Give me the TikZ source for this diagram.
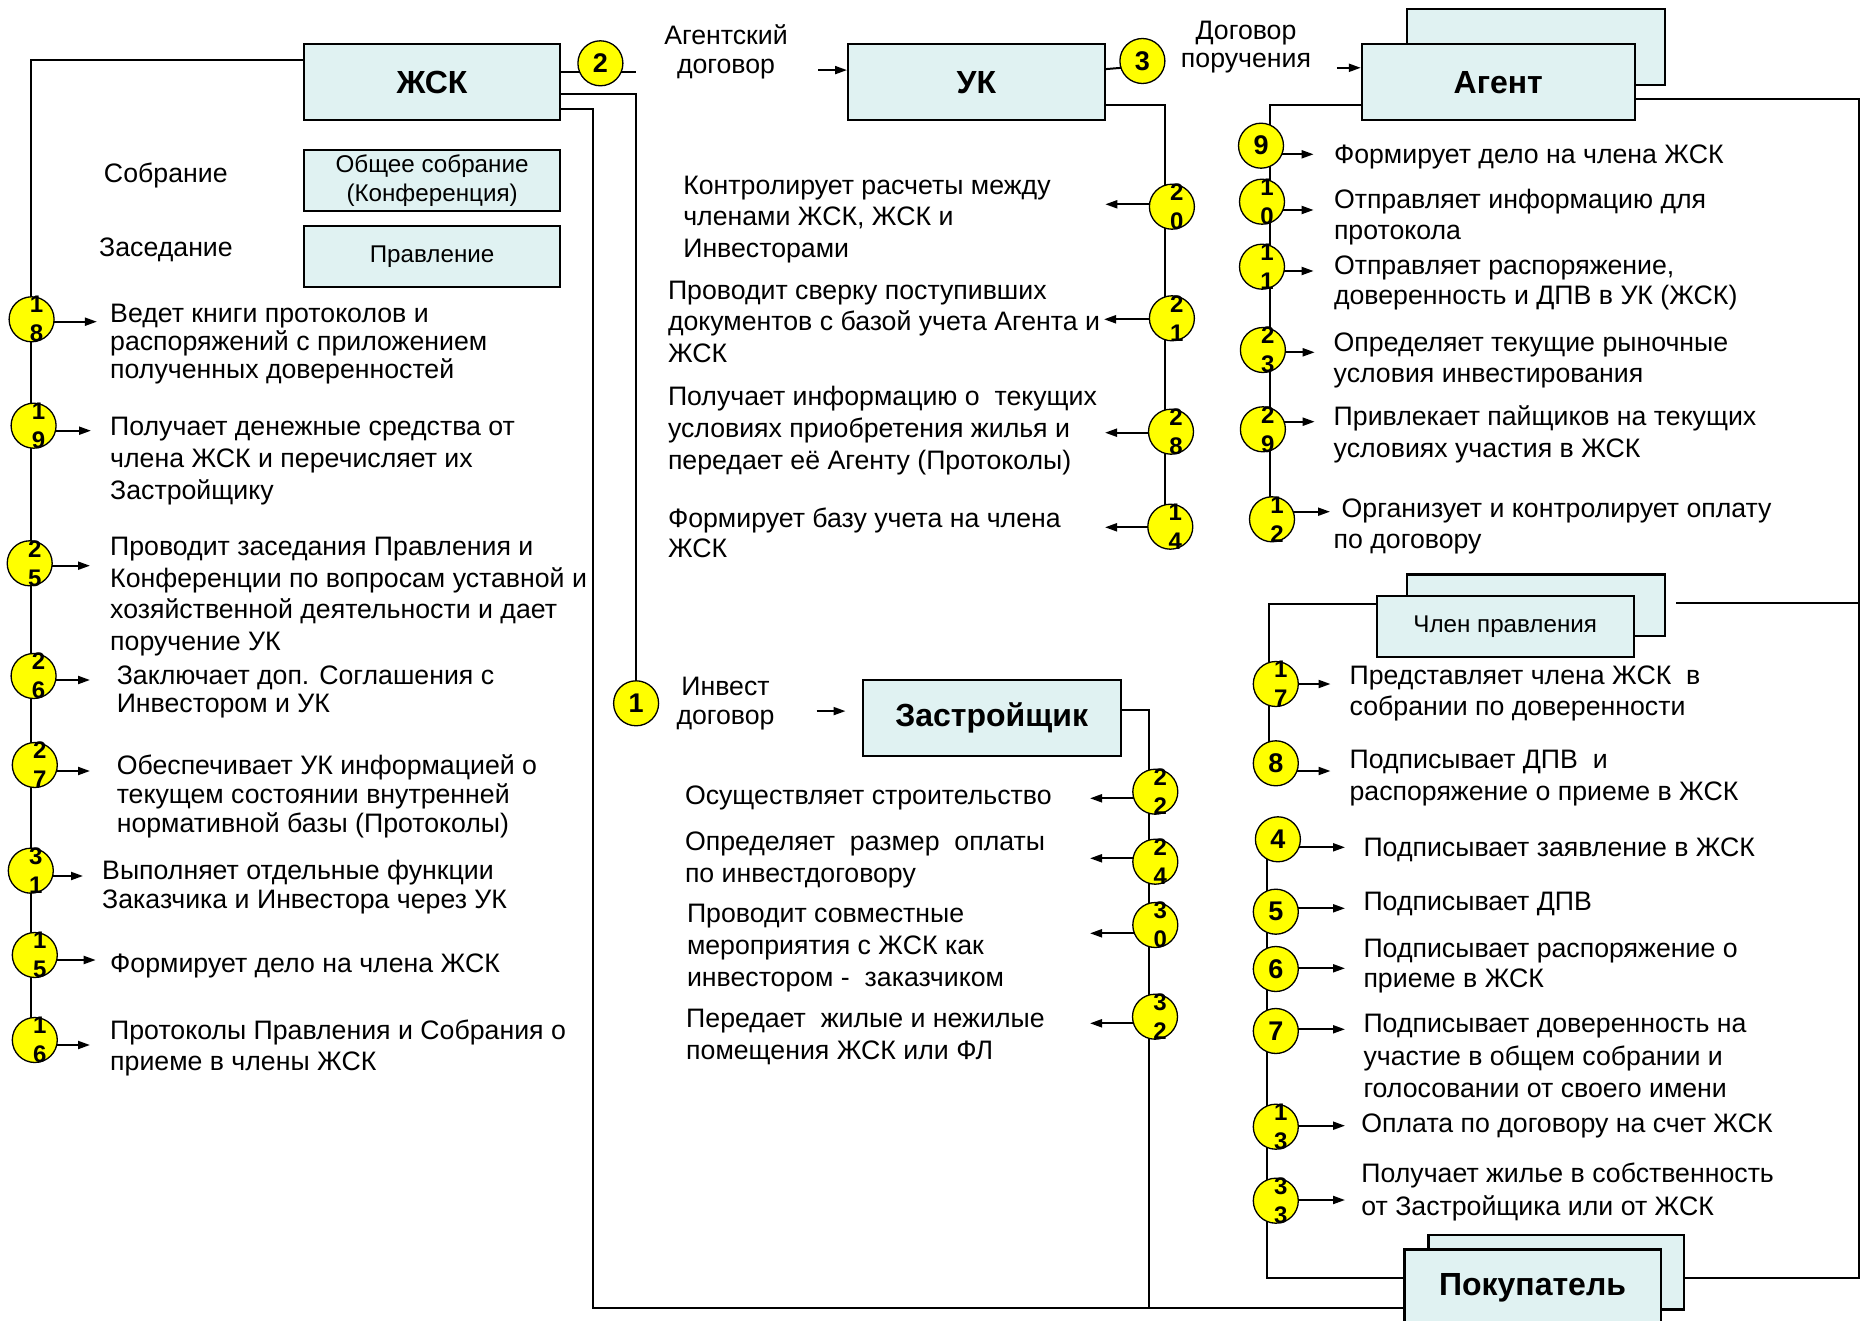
\documentclass[tikz,border=0pt]{standalone}
\usepackage{fontspec}
\setmainfont{Liberation Sans}
\usetikzlibrary{arrows.meta}
\definecolor{boxfill}{RGB}{224,242,242}
\definecolor{cyellow}{RGB}{255,255,0}
\pgfdeclarelayer{bg}
\pgfsetlayers{bg,main}
\newcommand{\fs}[1]{\fontsize{26.7}{#1}\selectfont}
\newcommand{\ms}{\rule{0pt}{22pt}}
\newcommand{\twonum}[5]{\node[num] (c#1) at (#2,#3) {};\node[dig] (d#1) at ([xshift=5pt]c#1.center) {#4\\#5};}
\newcommand{\carr}[3]{\draw[arr] (#1.center |- 0,#2) -- (#3,#2);}
\begin{document}
\begin{tikzpicture}[x=1pt,y=-1pt,
  box/.style={draw=black, line width=2.2pt, fill=boxfill, anchor=north west, inner sep=0},
  ttl/.style={font=\fontsize{32}{38}\selectfont\bfseries},
  sml/.style={align=center, font=\fontsize{24.2}{29}\selectfont},
  num/.style={circle, draw=black, line width=1.3pt, fill=cyellow, minimum size=45pt, inner sep=0, font=\fontsize{27}{30}\selectfont\bfseries},
  dig/.style={inner sep=0, align=center, font=\fontsize{24}{29}\selectfont\bfseries},
  txt/.style={anchor=north west, inner sep=0, align=left, font=\fs{31.5}},
  ctxt/.style={anchor=north, inner sep=0, align=center, font=\fs{29}},
  conn/.style={line width=2pt},
  arr/.style={line width=2pt, -{Triangle[length=12pt,width=8pt]}},
]
\useasboundingbox (0,0) rectangle (1860,1321);

% ---------- boxes ----------
\node[box, ttl, minimum width=256pt, minimum height=76pt] (jsk) at (303,43) {ЖСК};
\node[box, sml, minimum width=256pt, minimum height=61pt] (obs) at (303,149.3) {Общее собрание\\(Конференция)};
\node[box, sml, minimum width=256pt, minimum height=61pt] (prv) at (303,225) {Правление};
\node[box, ttl, minimum width=256.6pt, minimum height=76pt] (uk) at (847,43.3) {УК};
\node[box, minimum width=257.8pt, minimum height=75.7pt] (agB) at (1406,8.3) {};
\node[box, ttl, minimum width=272.7pt, minimum height=76pt] (agF) at (1360.8,43.3) {Агент};
\node[box, ttl, minimum width=258.2pt, minimum height=76pt] (zas) at (861.5,679) {Застройщик};
\node[box, minimum width=258.3pt, minimum height=61.7pt] (chB) at (1405.5,573.3) {};
\node[box, sml, minimum width=257.2pt, minimum height=61pt] (chF) at (1375.5,595) {Член правления};
\node[box, minimum width=255.9pt, minimum height=74.3pt] (pkB) at (1427.3,1234) {};
\node[box, ttl, minimum width=256.3pt, minimum height=76pt] (pkF) at (1403.3,1248.3) {Покупатель};

% ---------- side labels ----------
\node[ctxt] (lagd) at (726,22) {\ms Агентский\\договор};
\node[ctxt, font=\fs{28}] (ldpr) at (1246,17) {\ms Договор\\поручения};
\node[ctxt, font=\fs{28.3}] (lind) at (725.5,673.7) {\ms Инвест\\договор};
\node[ctxt] (lsob) at (165.8,160) {\ms Собрание};
\node[ctxt] (lzas) at (166,234) {\ms Заседание};

% ---------- coordinates ----------
\coordinate (lb) at (30.8,1040);
\coordinate (bl) at (593,1308.3);
\coordinate (ukb) at (1164.5,527);
\coordinate (agb) at (1269.5,519.3);
\coordinate (rt) at (1858.5,1278.3);
\coordinate (chb) at (1269.4,763.3);
\coordinate (pb) at (1267.3,839.3);
\coordinate (zb) at (1149,1308.3);

% ---------- circles ----------
\node[num] (c2) at (600.4,63.3) {2};
\node[num] (c3) at (1142.4,61) {3};
\node[num] (c1) at (636.1,703.3) {1};
\node[num] (c9) at (1261,145.7) {9};
\node[num] (c8) at (1275.8,763.3) {8};
\node[num] (c4) at (1277.9,839.3) {4};
\node[num] (c5) at (1275.8,911.7) {5};
\node[num] (c6) at (1275.8,969) {6};
\node[num] (c7) at (1275.8,1031) {7};
\twonum{18}{31.6}{319.3}{1}{8}
\twonum{19}{33.6}{425.7}{1}{9}
\twonum{25}{29.7}{563.3}{2}{5}
\twonum{26}{33.6}{676}{2}{6}
\twonum{27}{34.8}{765}{2}{7}
\twonum{31}{30.8}{870.7}{3}{1}
\twonum{15}{34.8}{955}{1}{5}
\twonum{16}{34.8}{1040}{1}{6}
\twonum{20}{1171.9}{206.7}{2}{0}
\twonum{21}{1171.9}{318.3}{2}{1}
\twonum{28}{1171}{431.7}{2}{8}
\twonum{14}{1170.3}{526.7}{1}{4}
\twonum{10}{1262}{201.7}{1}{0}
\twonum{11}{1262}{266.7}{1}{1}
\twonum{23}{1262.9}{350}{2}{3}
\twonum{29}{1262.9}{429.3}{2}{9}
\twonum{12}{1272}{519.3}{1}{2}
\twonum{17}{1275.8}{684}{1}{7}
\twonum{13}{1275.8}{1126.7}{1}{3}
\twonum{33}{1275.8}{1200.7}{3}{3}
\twonum{22}{1155.3}{791.7}{2}{2}
\twonum{24}{1155.3}{861.7}{2}{4}
\twonum{30}{1155.3}{925}{3}{0}
\twonum{32}{1155}{1016.7}{3}{2}

% ---------- texts: left column ----------
\node[txt, font=\fs{28}] (t18) at (110,300.3) {\ms Ведет книги протоколов и\\распоряжений с приложением\\полученных доверенностей};
\node[txt, font=\fs{31.7}] (t19) at (110,413.7) {\ms Получает денежные средства от\\члена ЖСК и перечисляет их\\Застройщику};
\node[txt, font=\fs{31.4}] (t25) at (110,533.7) {\ms Проводит заседания Правления и\\Конференции по вопросам уставной и\\хозяйственной деятельности и дает\\поручение УК};
\node[txt, font=\fs{28.3}] (t26) at (116.6,662) {\ms Заключает доп. Соглашения с\\Инвестором и УК};
\node[txt, font=\fs{29}] (t27) at (116.6,752) {\ms Обеспечивает УК информацией о\\текущем состоянии внутренней\\нормативной базы (Протоколы)};
\node[txt, font=\fs{29.3}] (t31) at (102,857) {\ms Выполняет отдельные функции\\Заказчика и Инвестора через УК};
\node[txt] (t15) at (110,950.3) {\ms Формирует дело на члена ЖСК};
\node[txt, font=\fs{31.7}] (t16) at (110,1017) {\ms Протоколы Правления и Собрания о\\приеме в члены ЖСК};

% ---------- texts: УК column ----------
\node[txt, font=\fs{31.7}] (t20) at (683.1,172) {\ms Контролирует расчеты между\\членами ЖСК, ЖСК и\\Инвесторами};
\node[txt, font=\fs{31.7}] (t21) at (667.8,277) {\ms Проводит сверку поступивших\\документов с базой учета Агента и\\ЖСК};
\node[txt, font=\fs{31.7}] (t28) at (667.8,383.7) {\ms Получает информацию о\ \ текущих\\условиях приобретения жилья и\\передает её Агенту (Протоколы)};
\node[txt, font=\fs{30}] (t14) at (667.8,505.3) {\ms Формирует базу учета на члена\\ЖСК};

% ---------- texts: Застройщик column ----------
\node[txt] (t22) at (684.8,782) {\ms Осуществляет строительство};
\node[txt, font=\fs{31.6}] (t24) at (684.8,828.7) {\ms Определяет\ \ размер\ \ оплаты\\по инвестдоговору};
\node[txt, font=\fs{32}] (t30) at (686.8,900.3) {\ms Проводит совместные\\мероприятия с ЖСК как\\инвестором -\ \ заказчиком};
\node[txt, font=\fs{31.7}] (t32) at (686,1005.3) {\ms Передает\ \ жилые и нежилые\\помещения ЖСК или ФЛ};

% ---------- texts: Агент column ----------
\node[txt] (t9) at (1333.8,141) {\ms Формирует дело на члена ЖСК};
\node[txt, font=\fs{31}] (t10) at (1333.8,186) {\ms Отправляет информацию для\\протокола};
\node[txt, font=\fs{30}] (t11) at (1333.8,252) {\ms Отправляет распоряжение,\\доверенность и ДПВ в УК (ЖСК)};
\node[txt, font=\fs{30.6}] (t23) at (1333.5,329.7) {\ms Определяет текущие рыночные\\условия инвестирования};
\node[txt, font=\fs{31.3}] (t29) at (1333.5,403.7) {\ms Привлекает пайщиков на текущих\\условиях участия в ЖСК};
\node[txt, font=\fs{31}] (t12) at (1333.5,495.3) {\ms\hspace*{8pt}Организует и контролирует оплату\\по договору};

% ---------- texts: Член правления / Покупатель ----------
\node[txt, font=\fs{31.7}] (t17) at (1349.4,662) {\ms Представляет члена ЖСК\ \ в\\собрании по доверенности};
\node[txt, font=\fs{31.7}] (t8) at (1349.4,746.3) {\ms Подписывает ДПВ\ \ и\\распоряжение о приеме в ЖСК};
\node[txt] (t4) at (1363.3,834.3) {\ms Подписывает заявление в ЖСК};
\node[txt] (t5) at (1363.3,888.7) {\ms Подписывает ДПВ};
\node[txt, font=\fs{30}] (t6) at (1363.3,935.3) {\ms Подписывает распоряжение о\\приеме в ЖСК};
\node[txt, font=\fs{32.5}] (t7) at (1363.3,1010.3) {\ms Подписывает доверенность на\\участие в общем собрании и\\голосовании от своего имени};
\node[txt] (t13) at (1361.2,1110.3) {\ms Оплата по договору на счет ЖСК};
\node[txt, font=\fs{33.4}] (t33) at (1361.2,1160.3) {\ms Получает жилье в собственность\\от Застройщика или от ЖСК};

% ---------- connectors (behind) ----------
\begin{pgfonlayer}{bg}
\fill[white] (0,0) rectangle (1860,1321);
\draw[conn] ([yshift=21.7pt]jsk.west) -| (lb);
\draw[conn] ([yshift=10pt]jsk.east) -- ++(75,0);
\draw[conn] ([yshift=-12.3pt]jsk.east) -| (c1.center);
\draw[conn] ([yshift=-27.3pt]jsk.east) -| (bl) -- (pkF.west |- bl);
\draw[conn] ([yshift=13.3pt]uk.east) -- (c3.west |- 0,68) -- (c3.center |- 0,68);
\draw[conn] ([yshift=-23pt]uk.east) -| (ukb);
\draw[conn] ([yshift=-23pt]agF.west) -| (agb);
\draw[conn] ([yshift=-17pt]agF.east) -| (rt) -- (pkB.east |- rt);
\draw[conn] ([yshift=22.2pt]chF.west) -| (chb);
\draw[conn] (chB.east |- 0,603.3) ++(10,0) -- (rt |- 0,603.3);
\draw[conn] (pkF.west |- rt) -| (pb);
\draw[conn] ([yshift=8pt]zas.east) -| (zb);
\draw[arr] ([xshift=-29pt,yshift=12.3pt]uk.west) -- ([yshift=12.3pt]uk.west);
\draw[arr] ([xshift=-24pt,yshift=14.6pt]agF.west) -- ([yshift=14.6pt]agF.west);
\draw[arr] ([xshift=-45pt,yshift=7pt]zas.west) -- ([xshift=-16pt,yshift=7pt]zas.west);
\carr{c18}{321.7}{96.9}
\carr{c19}{430.7}{91}
\carr{c25}{565.7}{90}
\carr{c26}{680}{90}
\carr{c27}{771}{90}
\carr{c31}{876}{83}
\carr{c15}{960}{95.7}
\carr{c16}{1045}{90}
\carr{c20}{204.3}{1105.3}
\carr{c21}{319.3}{1104}
\carr{c28}{432.7}{1105}
\carr{c14}{527.3}{1105}
\carr{c9}{154.3}{1313.6}
\carr{c10}{210}{1313.6}
\carr{c11}{271}{1313.6}
\carr{c23}{352.3}{1314.7}
\carr{c29}{421.7}{1314.7}
\carr{c12}{511.7}{1330}
\carr{c17}{684}{1330.5}
\carr{c8}{771}{1330.5}
\carr{c4}{847.3}{1345}
\carr{c5}{908.3}{1345}
\carr{c6}{968.3}{1345}
\carr{c7}{1029.3}{1345}
\carr{c13}{1125.7}{1345}
\carr{c33}{1200}{1345}
\carr{c22}{798.3}{1090}
\carr{c24}{858.3}{1090}
\carr{c30}{933.3}{1090}
\carr{c32}{1023.3}{1090}
\end{pgfonlayer}
\end{tikzpicture}
\end{document}
